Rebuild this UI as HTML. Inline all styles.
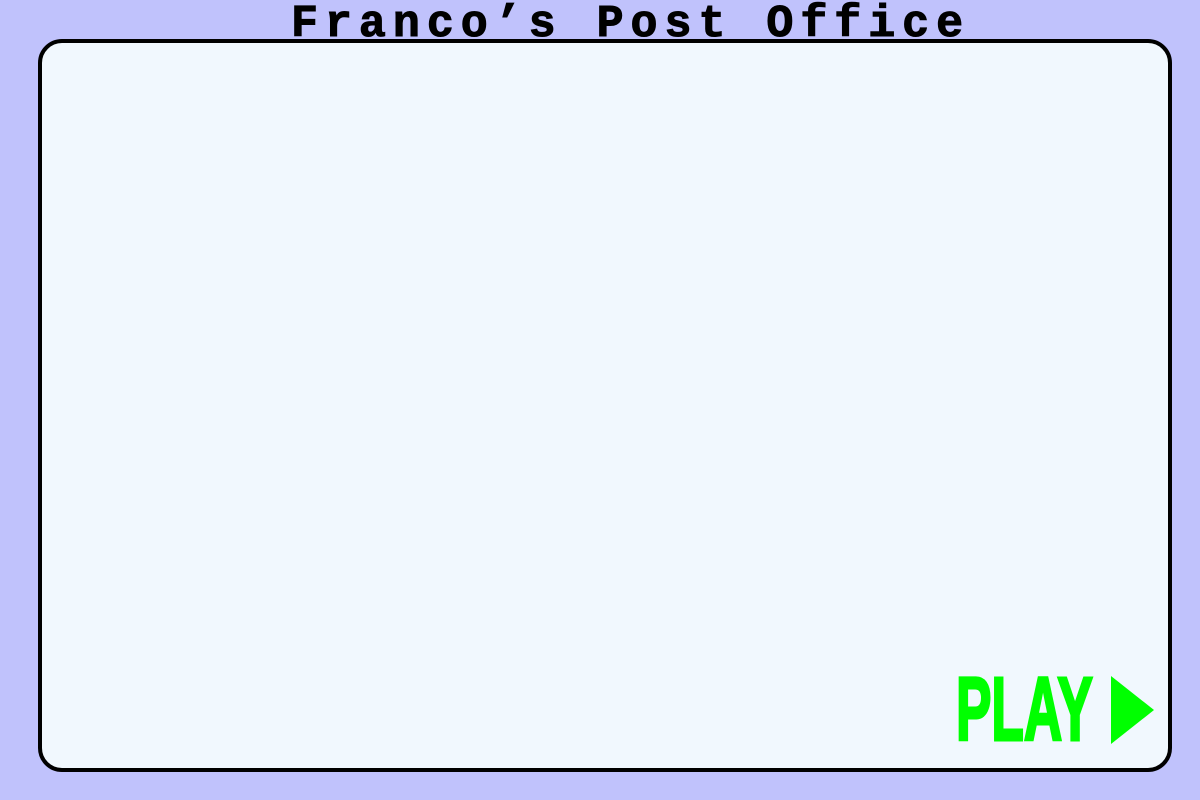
<!DOCTYPE html>
<html><head><meta charset="utf-8"><style>
html,body{margin:0;padding:0}
body{width:1200px;height:800px;background:#c0c2fc;position:relative;overflow:hidden}
.title{position:absolute;left:291px;top:-1px;font-family:"Liberation Mono",monospace;font-weight:bold;font-size:45px;letter-spacing:6.95px;color:#000;white-space:nowrap;line-height:52px;-webkit-text-stroke:1px #000}
.box{position:absolute;left:38px;top:39px;width:1126px;height:725px;border:4px solid #000;border-radius:24px;background:#f1f8fe}
.play{position:absolute;left:956px;top:664px;font-family:"Liberation Sans Narrow","Liberation Sans",sans-serif;font-weight:bold;font-size:90px;color:#00ff00;line-height:92px;transform:scaleX(0.59);transform-origin:left top;white-space:nowrap;-webkit-text-stroke:3px #00ff00}
.tri{position:absolute;left:1111px;top:676px;width:0;height:0;border-top:34px solid transparent;border-bottom:34px solid transparent;border-left:43px solid #00ff00}
</style></head><body>
<div class="box"></div>
<div class="title">Franco’s Post Office</div>
<div class="play">PLAY</div>
<div class="tri"></div>
</body></html>
